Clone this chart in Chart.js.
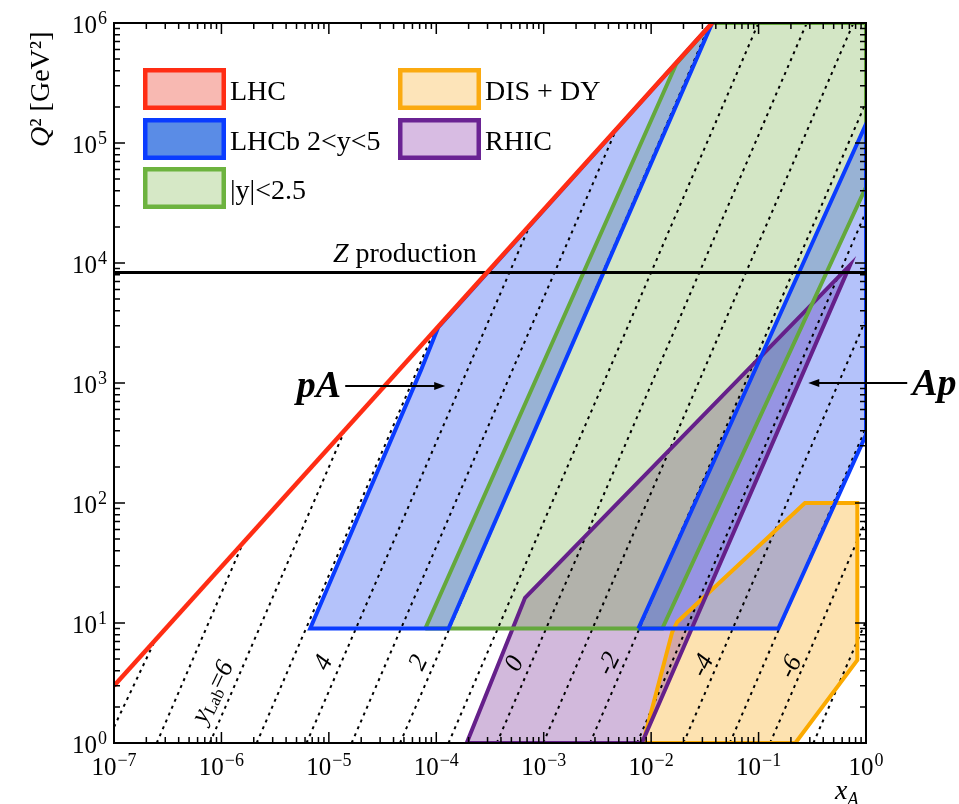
<!DOCTYPE html>
<html>
<head>
<meta charset="utf-8">
<script src="https://cdn.jsdelivr.net/npm/chart.js@4.4.0/dist/chart.umd.min.js"></script>
<style>
  html, body { margin: 0; padding: 0; background: #fff; }
  canvas { display: block; }
</style>
</head>
<body>
<canvas id="kinChart" width="959" height="804"></canvas>
<script>
// tick exponents (labels 10^n)
const xTickExps = [-7, -6, -5, -4, -3, -2, -1, 0];
const yTickExps = [0, 1, 2, 3, 4, 5, 6];

// LHC kinematic limit
const lhcX = [1e-7, 0.037];
const lhcQ2 = [3.0, 1e6];

// LHCb 2<y<5, pA side
const lhcbPAX = [0.037, 1.04e-4, 7.2e-5, 6.7e-6, 1.3e-4, 0.037];
const lhcbPAQ2 = [1e6, 2900, 1280, 9, 9, 1e6];

// LHCb 2<y<5, Ap side
const lhcbAPX = [7.6e-3, 1, 1, 0.153, 7.6e-3];
const lhcbAPQ2 = [9, 1.44e5, 370, 9, 9];

// |y|<2.5
const centralX = [7.9e-5, 0.0171, 0.037, 1, 1, 0.0127, 7.9e-5];
const centralQ2 = [9, 4.55e5, 1e6, 1e6, 4.3e4, 9, 9];

// RHIC
const rhicX = [1.92e-4, 6.7e-4, 0.71, 8.2e-3, 1.92e-4];
const rhicQ2 = [1, 16.2, 9600, 1, 1];

// DIS + DY
const disX = [8.4e-3, 0.0157, 0.0175, 0.27, 0.83, 0.83, 0.22, 8.4e-3];
const disQ2 = [1, 8.4, 10.2, 100, 100, 4.9, 1, 1];

// Z production
const zLineX = [1e-7, 1];
const zLineQ2 = [8315, 8315];

// constant y_Lab lines (start / end points)
const yLabValues = [8, 7, 6, 5, 4, 3, 2, 1, 0, -1, -2, -3, -4, -5, -6, -7];
const yLabStartX = [1e-7, 2.5e-7, 7.8e-7, 2.13e-6, 6.2e-6, 1.63e-5, 4.6e-5, 1.3e-4, 3.66e-4, 9.9e-4, 2.7e-3, 7.4e-3, 0.020, 0.054, 0.128, 0.324];
const yLabStartQ2 = [1.36, 1, 1, 1, 1, 1, 1, 1, 1, 1, 1, 1, 1, 1, 1, 1];
const yLabEndX = [2.4e-7, 1.58e-6, 1.4e-5, 9.5e-5, 7.4e-4, 4.7e-3, 0.034, 0.0998, 0.281, 0.764, 1, 1, 1, 1, 1, 1];
const yLabEndQ2 = [7.1, 46, 400, 2690, 2.05e4, 1.28e5, 9.1e5, 1e6, 1e6, 1e6, 2.18e5, 2.68e4, 3400, 425, 71.5, 10.4];

// labels on the y_Lab lines
const yLabTags = ['6', '4', '2', '0', '-2', '-4', '-6'];
const yLabTagX = [8.4e-7, 9.0e-6, 6.9e-5, 5.4e-4, 4.07e-3, 0.0305, 0.201];
const yLabTagQ2 = [2.66, 4.64, 4.64, 4.55, 4.55, 4.4, 4.3];

// legend
const legendLabels = ['LHC', 'LHCb 2<y<5', '|y|<2.5', 'DIS + DY', 'RHIC'];
const legendFills = ['#f8b9b2', '#5a8ce6', '#d6e8c6', '#fde4b9', '#d8bce3'];
const legendEdges = ['#ff2d14', '#0a3cff', '#6db33f', '#fbaa10', '#6a2393'];

const SERIF = "'Liberation Serif', 'Times New Roman', serif";

const colors = {
    red: '#ff2d14',
    blue: '#0a3cff',
    blueFill: 'rgba(40, 80, 240, 0.35)',
    green: '#64a83c',
    greenFill: 'rgba(79, 155, 23, 0.25)',
    purple: '#65208a',
    purpleFill: 'rgba(126, 55, 155, 0.35)',
    orange: '#fbaa00',
    orangeFill: 'rgba(250, 165, 10, 0.32)'
};

function pts(xs, ys) {
    return xs.map((x, i) => ({ x: x, y: ys[i] }));
}

// filled area only
function regionFill(label, xs, ys, color, order) {
    return {
        label: label, data: pts(xs, ys), showLine: true, fill: 'shape',
        backgroundColor: color, borderWidth: 0, pointRadius: 0, order: order
    };
}

// outline only
function regionEdge(label, xs, ys, color, order, width) {
    return {
        label: label, data: pts(xs, ys), showLine: true, fill: false,
        borderColor: color, borderWidth: width || 4, borderJoinStyle: 'miter',
        pointRadius: 0, order: order
    };
}

const yLabSets = yLabValues.map((v, i) => ({
    label: 'yLab=' + v,
    data: [{ x: yLabStartX[i], y: yLabStartQ2[i] }, { x: yLabEndX[i], y: yLabEndQ2[i] }],
    showLine: true, fill: false, borderColor: '#000', borderWidth: 2,
    borderDash: [3, 4.5], pointRadius: 0, order: 15
}));

// draw 10^n
function drawPow(ctx, exp, x, y, align) {
    const base = '10';
    const sup = exp < 0 ? '\u2212' + (-exp) : String(exp);
    ctx.font = '25px ' + SERIF;
    const wb = ctx.measureText(base).width;
    ctx.font = '18px ' + SERIF;
    const we = ctx.measureText(sup).width;
    const w = wb + we + 1;
    const x0 = align === 'center' ? x - w / 2 : x - w;
    ctx.textAlign = 'left';
    ctx.textBaseline = 'alphabetic';
    ctx.font = '25px ' + SERIF;
    ctx.fillText(base, x0, y);
    ctx.font = '18px ' + SERIF;
    ctx.fillText(sup, x0 + wb + 1, y - 9);
}

// draw a run of text pieces
function drawParts(ctx, parts, x, y) {
    let cx = x;
    parts.forEach(p => {
        ctx.font = p.font;
        ctx.fillText(p.text, cx, y + (p.dy || 0));
        cx += ctx.measureText(p.text).width;
    });
}

function partsWidth(ctx, parts) {
    let w = 0;
    parts.forEach(p => { ctx.font = p.font; w += ctx.measureText(p.text).width; });
    return w;
}

function arrow(ctx, x1, y1, x2, y2) {
    const ang = Math.atan2(y2 - y1, x2 - x1);
    ctx.beginPath();
    ctx.moveTo(x1, y1);
    ctx.lineTo(x2 - 8 * Math.cos(ang), y2 - 8 * Math.sin(ang));
    ctx.stroke();
    ctx.beginPath();
    ctx.moveTo(x2, y2);
    ctx.lineTo(x2 - 11 * Math.cos(ang) + 4 * Math.sin(ang), y2 - 11 * Math.sin(ang) - 4 * Math.cos(ang));
    ctx.lineTo(x2 - 11 * Math.cos(ang) - 4 * Math.sin(ang), y2 - 11 * Math.sin(ang) + 4 * Math.cos(ang));
    ctx.closePath();
    ctx.fill();
}

const decor = {
    id: 'decor',
    afterDraw(chart) {
        const ctx = chart.ctx;
        const a = chart.chartArea;
        const sx = chart.scales.x;
        const sy = chart.scales.y;
        ctx.save();
        ctx.fillStyle = '#000';
        ctx.strokeStyle = '#000';

        // frame
        ctx.lineWidth = 2;
        ctx.strokeRect(a.left, a.top, a.right - a.left, a.bottom - a.top);

        // inward ticks on all sides
        ctx.lineWidth = 1.5;
        ctx.beginPath();
        for (let e = xTickExps[0]; e <= xTickExps[xTickExps.length - 1]; e++) {
            for (let m = 1; m <= 9; m++) {
                const v = m * Math.pow(10, e);
                if (v > sx.max * 1.0001) break;
                const px = sx.getPixelForValue(v);
                const len = m === 1 ? 11 : 6;
                ctx.moveTo(px, a.bottom); ctx.lineTo(px, a.bottom - len);
                ctx.moveTo(px, a.top); ctx.lineTo(px, a.top + len);
            }
        }
        for (let e = yTickExps[0]; e <= yTickExps[yTickExps.length - 1]; e++) {
            for (let m = 1; m <= 9; m++) {
                const v = m * Math.pow(10, e);
                if (v > sy.max * 1.0001) break;
                const py = sy.getPixelForValue(v);
                const len = m === 1 ? 11 : 6;
                ctx.moveTo(a.left, py); ctx.lineTo(a.left + len, py);
                ctx.moveTo(a.right, py); ctx.lineTo(a.right - len, py);
            }
        }
        ctx.stroke();

        // tick labels
        xTickExps.forEach(e => drawPow(ctx, e, sx.getPixelForValue(Math.pow(10, e)), a.bottom + 32, 'center'));
        yTickExps.forEach(e => drawPow(ctx, e, a.left - 7, sy.getPixelForValue(Math.pow(10, e)) + 10, 'right'));

        // axis titles
        ctx.save();
        ctx.translate(49, a.top + 124);
        ctx.rotate(-Math.PI / 2);
        ctx.textAlign = 'left';
        drawParts(ctx, [
            { text: 'Q', font: 'italic 28px ' + SERIF },
            { text: '\u00b2 [GeV\u00b2]', font: '28px ' + SERIF }
        ], 0, 0);
        ctx.restore();
        ctx.textAlign = 'left';
        drawParts(ctx, [
            { text: 'x', font: 'italic 28px ' + SERIF },
            { text: 'A', font: 'italic 18px ' + SERIF, dy: 6 }
        ], a.right - 31, a.bottom + 56);

        // legend
        const colX = [143, 398];
        const rowY = [68, 118, 167];
        const slots = [[0, 0], [0, 1], [0, 2], [1, 0], [1, 1]];
        legendLabels.forEach((lab, i) => {
            const bx = colX[slots[i][0]];
            const by = rowY[slots[i][1]];
            ctx.fillStyle = legendFills[i];
            ctx.fillRect(bx, by, 83, 42);
            ctx.strokeStyle = legendEdges[i];
            ctx.lineWidth = 4.5;
            ctx.strokeRect(bx + 2.25, by + 2.25, 78.5, 37.5);
            ctx.fillStyle = '#000';
            ctx.font = '28px ' + SERIF;
            ctx.textAlign = 'left';
            ctx.fillText(lab, bx + 87, by + 32);
        });

        // Z production
        const zParts = [
            { text: 'Z', font: 'italic 28px ' + SERIF },
            { text: ' production', font: '28px ' + SERIF }
        ];
        const zw = partsWidth(ctx, zParts);
        drawParts(ctx, zParts, sx.getPixelForValue(5.1e-5) - zw / 2, sy.getPixelForValue(zLineQ2[0]) - 11);

        // pA / Ap arrows
        ctx.strokeStyle = '#000';
        ctx.fillStyle = '#000';
        ctx.lineWidth = 2;
        const pay = sy.getPixelForValue(944);
        arrow(ctx, sx.getPixelForValue(1.42e-5), pay, sx.getPixelForValue(1.21e-4), pay);
        ctx.font = 'bold italic 38px ' + SERIF;
        ctx.textAlign = 'right';
        ctx.fillText('pA', sx.getPixelForValue(1.3e-5), pay + 11);
        const apy = sy.getPixelForValue(1000);
        arrow(ctx, sx.getPixelForValue(2.42), apy, sx.getPixelForValue(0.29), apy);
        ctx.textAlign = 'left';
        ctx.fillText('Ap', sx.getPixelForValue(2.69), apy + 12);

        // y_Lab tags along the lines
        const ang = -64 * Math.PI / 180;
        yLabTags.forEach((t, i) => {
            const parts = i === 0 ? [
                { text: 'y', font: 'italic 26px ' + SERIF },
                { text: 'Lab', font: '17px ' + SERIF, dy: 6 },
                { text: '=', font: '26px ' + SERIF },
                { text: t, font: 'italic 26px ' + SERIF }
            ] : [{ text: t, font: 'italic 26px ' + SERIF }];
            const w = partsWidth(ctx, parts);
            ctx.save();
            ctx.translate(sx.getPixelForValue(yLabTagX[i]), sy.getPixelForValue(yLabTagQ2[i]));
            ctx.rotate(ang);
            ctx.textAlign = 'left';
            ctx.textBaseline = 'middle';
            drawParts(ctx, parts, -w / 2, 0);
            ctx.restore();
        });

        ctx.restore();
    }
};

const datasets = [
    regionEdge('LHC', lhcX, lhcQ2, colors.red, 5, 4.5),
    regionEdge('Z production', zLineX, zLineQ2, '#000', 6, 3),
    regionEdge('LHCb pA', lhcbPAX, lhcbPAQ2, colors.blue, 7),
    regionEdge('LHCb Ap', lhcbAPX, lhcbAPQ2, colors.blue, 7),
    regionEdge('|y|<2.5', centralX, centralQ2, colors.green, 8),
    regionEdge('RHIC', rhicX, rhicQ2, colors.purple, 9),
    regionEdge('DIS + DY', disX, disQ2, colors.orange, 10),
    ...yLabSets,
    regionFill('LHCb Ap fill', lhcbAPX, lhcbAPQ2, colors.blueFill, 16),
    regionFill('LHCb pA fill', lhcbPAX, lhcbPAQ2, colors.blueFill, 17),
    regionFill('|y|<2.5 fill', centralX, centralQ2, colors.greenFill, 18),
    regionFill('RHIC fill', rhicX, rhicQ2, colors.purpleFill, 19),
    regionFill('DIS + DY fill', disX, disQ2, colors.orangeFill, 20)
];

const ctx = document.getElementById('kinChart').getContext('2d');
ctx.chart = new Chart(ctx, {
    type: 'scatter',
    data: { datasets: datasets },
    options: {
        responsive: false,
        animation: false,
        events: [],
        layout: { padding: { left: 114, right: 93, top: 23, bottom: 61 } },
        plugins: {
            legend: { display: false },
            tooltip: { enabled: false }
        },
        elements: { line: { tension: 0 } },
        scales: {
            x: {
                type: 'logarithmic', min: 1e-7, max: 1,
                ticks: { display: false },
                grid: { display: false },
                border: { display: false },
                afterFit: s => { s.height = 0; }
            },
            y: {
                type: 'logarithmic', min: 1, max: 1e6,
                ticks: { display: false },
                grid: { display: false },
                border: { display: false },
                afterFit: s => { s.width = 0; }
            }
        }
    },
    plugins: [decor]
});
</script>
</body>
</html>
